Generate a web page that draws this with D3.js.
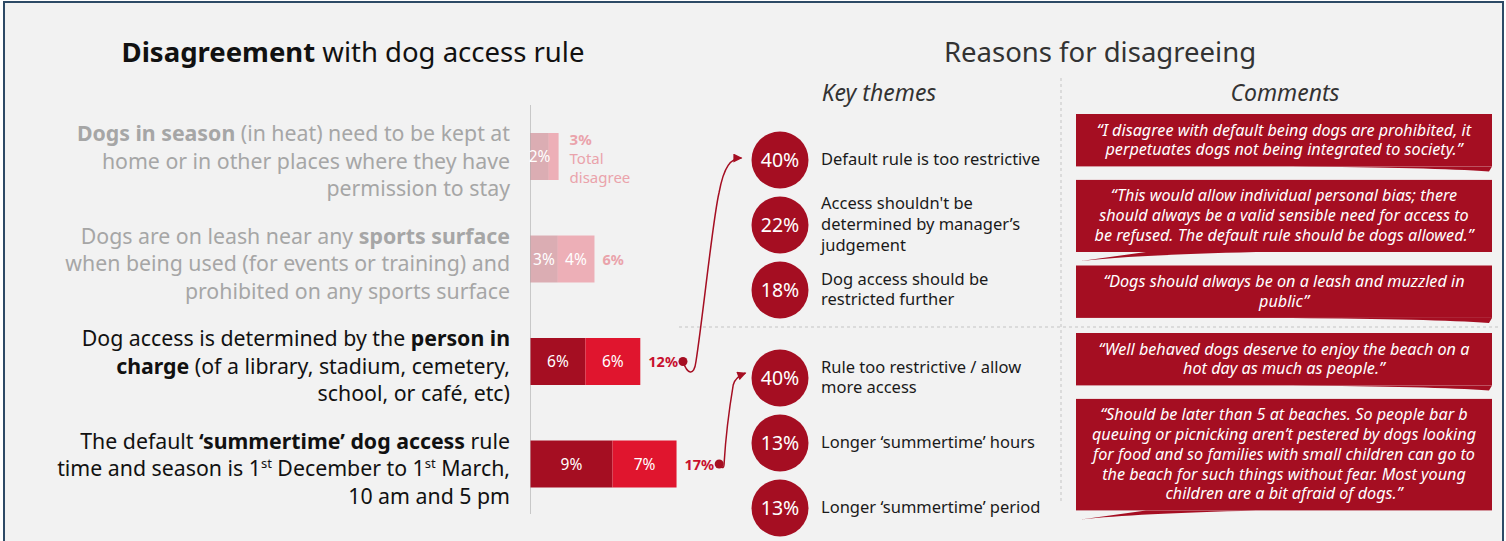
<!DOCTYPE html>
<html><head><meta charset="utf-8">
<script src="https://cdn.jsdelivr.net/npm/d3@7"></script>
<style>body{margin:0;background:#fff;} svg{display:block;}</style>
</head><body><svg id="c" width="1506" height="541"></svg>
<script>
// ---------- DATA ----------
const categories = ["season", "sports", "person", "summer"];
const labelLines = [
  [[["Dogs in season", "b"], [" (in heat) need to be kept at", "n"]],
   [["home or in other places where they have", "n"]],
   [["permission to stay", "n"]]],
  [[["Dogs are on leash near any ", "n"], ["sports surface", "b"]],
   [["when being used (for events or training) and", "n"]],
   [["prohibited on any sports surface", "n"]]],
  [[["Dog access is determined by the ", "n"], ["person in", "b"]],
   [["charge", "b"], [" (of a library, stadium, cemetery,", "n"]],
   [["school, or café, etc)", "n"]]],
  [[["The default ", "n"], ["‘summertime’ dog access", "b"], [" rule", "n"]],
   [["time and season is 1", "n"], ["st", "sup"], [" December to 1", "n"], ["st", "sup"], [" March,", "n"]],
   [["10 am and 5 pm", "n"]]]
];
const darkValues = [1.97, 2.95, 6.0, 8.96];
const lightValues = [1.1, 4.04, 6.0, 7.0];
const darkLabels = ["2%", "3%", "6%", "9%"];
const lightLabels = ["", "4%", "6%", "7%"];
const totalLabels = ["3%", "6%", "12%", "17%"];
const highlighted = [false, false, true, true];

const themeValues1 = [40, 22, 18];
const themeLabels1 = [["Default rule is too restrictive"], ["Access shouldn't be", "determined by manager’s", "judgement"], ["Dog access should be", "restricted further"]];
const themeValues2 = [40, 13, 13];
const themeLabels2 = [["Rule too restrictive / allow", "more access"], ["Longer ‘summertime’ hours"], ["Longer ‘summertime’ period"]];

const comments1 = [
  ["“I disagree with default being dogs are prohibited, it", "perpetuates dogs not being integrated to society.”"],
  ["“This would allow individual personal bias; there", "should always be a valid sensible need for access to", "be refused. The default rule should be dogs allowed.”"],
  ["“Dogs should always be on a leash and muzzled in", "public”"]
];
const comments2 = [
  ["“Well behaved dogs deserve to enjoy the beach on a", "hot day as much as people.”"],
  ["“Should be later than 5 at beaches. So people bar b", "queuing or picnicking aren’t pestered by dogs looking", "for food and so families with small children can go to", "the beach for such things without fear. Most young", "children are a bit afraid of dogs.”"]
];
const tails1 = ["right", "left", "right"];
const tails2 = ["right", "left"];

// ---------- STYLE ----------
const FONT = "'Noto Sans', Lato, sans-serif";
const DARK = "#a50e22", LIGHT = "#e0152e", RED = "#c8102e";
const svg = d3.select("#c");

svg.append("rect").attr("x", 4).attr("y", 2).attr("width", 1499).attr("height", 545)
  .attr("fill", "#f2f2f2").attr("stroke", "#2d4a66").attr("stroke-width", 2);

const defs = svg.append("defs");
defs.append("marker").attr("id", "ah").attr("viewBox", "0 0 10 10").attr("refX", 9).attr("refY", 5)
  .attr("markerWidth", 11).attr("markerHeight", 9).attr("markerUnits", "userSpaceOnUse").attr("orient", "auto")
  .append("path").attr("d", "M0,0 L10,5 L0,10 z").attr("fill", DARK);

// ---------- LEFT: title ----------
const t1 = svg.append("text").attr("x", 353).attr("y", 62).attr("text-anchor", "middle")
  .attr("font-family", FONT).attr("font-size", 27.5).attr("fill", "#111");
t1.append("tspan").attr("font-weight", "bold").text("Disagreement");
t1.append("tspan").text(" with dog access rule");

// ---------- LEFT: bars ----------
const x = d3.scaleLinear().domain([0, 20]).range([530.5, 713.5]);
const y = d3.scalePoint().domain(categories).range([156.5, 464]);
const BH = 47;

svg.append("line").attr("x1", x(0)).attr("x2", x(0)).attr("y1", 105).attr("y2", 514)
  .attr("stroke", "#c8c8c8").attr("stroke-width", 1);

const rows = svg.selectAll("g.row").data(categories).join("g").attr("class", "row");
rows.each(function (c, i) {
  const g = d3.select(this);
  const cy = y(c);
  const op = highlighted[i] ? 1 : 0.3;
  g.append("rect").attr("x", x(0)).attr("y", cy - BH / 2).attr("width", x(darkValues[i]) - x(0)).attr("height", BH)
    .attr("fill", DARK).attr("opacity", op);
  g.append("rect").attr("x", x(darkValues[i])).attr("y", cy - BH / 2)
    .attr("width", x(darkValues[i] + lightValues[i]) - x(darkValues[i])).attr("height", BH)
    .attr("fill", LIGHT).attr("opacity", op);
  g.append("text").attr("x", (x(0) + x(darkValues[i])) / 2).attr("y", cy + 5.5).attr("text-anchor", "middle")
    .attr("font-family", FONT).attr("font-size", 15.5).attr("fill", "#fff").text(darkLabels[i]);
  g.append("text").attr("x", (x(darkValues[i]) + x(darkValues[i] + lightValues[i])) / 2).attr("y", cy + 5.5)
    .attr("text-anchor", "middle").attr("font-family", FONT).attr("font-size", 15.5).attr("fill", "#fff").text(lightLabels[i]);
  const tx = x(darkValues[i] + lightValues[i]) + 8;
  const tcol = highlighted[i] ? RED : "#eaa3ab";
  if (i === 0) {
    g.append("text").attr("x", tx + 3).attr("y", cy - 12).attr("font-family", FONT).attr("font-size", 15)
      .attr("font-weight", "bold").attr("fill", tcol).text(totalLabels[i]);
    g.append("text").attr("x", tx + 3).attr("y", cy + 7).attr("font-family", FONT).attr("font-size", 15)
      .attr("fill", tcol).text("Total");
    g.append("text").attr("x", tx + 3).attr("y", cy + 26).attr("font-family", FONT).attr("font-size", 15)
      .attr("fill", tcol).text("disagree");
  } else {
    g.append("text").attr("class", "tot").attr("x", tx).attr("y", cy + 5.5).attr("font-family", FONT).attr("font-size", 14.5)
      .attr("font-weight", "bold").attr("fill", tcol).text(totalLabels[i]);
  }
  const lines = labelLines[i];
  const LH = 27.5;
  lines.forEach((segs, li) => {
    const t = g.append("text").attr("x", 510).attr("y", cy + 12 + (li - 1) * LH).attr("text-anchor", "end")
      .attr("font-family", FONT).attr("font-size", 21.3).attr("fill", highlighted[i] ? "#111" : "#a6a6a6");
    let up = false;
    segs.forEach(([txt, st]) => {
      const ts = t.append("tspan").text(txt);
      if (st === "b") ts.attr("font-weight", "bold");
      if (st === "sup") { ts.attr("font-size", 13).attr("dy", -8); up = true; }
      else if (up) { ts.attr("dy", 8); up = false; }
    });
  });
});

// ---------- RIGHT: headers ----------
svg.append("text").attr("x", 1100).attr("y", 62).attr("text-anchor", "middle").attr("font-family", FONT)
  .attr("font-size", 27.5).attr("fill", "#333").text("Reasons for disagreeing");
svg.append("text").attr("x", 879).attr("y", 101).attr("text-anchor", "middle").attr("font-family", FONT)
  .attr("font-size", 23).attr("font-style", "italic").attr("fill", "#333").text("Key themes");
svg.append("text").attr("x", 1285).attr("y", 101).attr("text-anchor", "middle").attr("font-family", FONT)
  .attr("font-size", 23).attr("font-style", "italic").attr("fill", "#333").text("Comments");

svg.append("line").attr("x1", 1061).attr("x2", 1061).attr("y1", 78).attr("y2", 503)
  .attr("stroke", "#c4c4c4").attr("stroke-dasharray", "3,3");
svg.append("line").attr("x1", 679).attr("x2", 1500).attr("y1", 327).attr("y2", 327)
  .attr("stroke", "#c4c4c4").attr("stroke-dasharray", "3,3");

// ---------- RIGHT: themes ----------
const CX = 780, R = 28.5;
function drawThemes(vals, labs, y0, y1) {
  const ys = d3.scalePoint().domain(d3.range(vals.length)).range([y0, y1]);
  vals.forEach((v, i) => {
    const cy = ys(i);
    svg.append("circle").attr("cx", CX).attr("cy", cy).attr("r", R).attr("fill", DARK);
    svg.append("text").attr("x", CX).attr("y", cy + 7).attr("text-anchor", "middle").attr("font-family", FONT)
      .attr("font-size", 19.5).attr("fill", "#fff").text(v + "%");
    const n = labs[i].length, LH = 20.7;
    labs[i].forEach((l, li) => {
      svg.append("text").attr("x", 821).attr("y", cy + 5 + (li - (n - 1) / 2) * LH).attr("font-family", FONT)
        .attr("font-size", 16.5).attr("fill", "#1a1a1a").text(l);
    });
  });
  return ys;
}
const ys1 = drawThemes(themeValues1, themeLabels1, 160, 290);
const ys2 = drawThemes(themeValues2, themeLabels2, 378, 508);

// ---------- RIGHT: comments ----------
const BX0 = 1076, BX1 = 1492, CLH = 19.7;
function drawComments(list, tails, top) {
  let yy = top;
  list.forEach((lines, i) => {
    const h = lines.length * CLH + 13;
    const b = yy + h;
    svg.append("rect").attr("x", BX0).attr("y", yy).attr("width", BX1 - BX0).attr("height", h).attr("fill", DARK);
    if (tails[i] === "right") {
      svg.append("path").attr("d", `M${BX1 - 200},${b} Q${BX1 - 60},${b + 1} ${BX1 - 3},${b + 5} L${BX1},${b} Z`).attr("fill", DARK);
    } else {
      svg.append("path").attr("d", `M${BX0 + 180},${b} Q${BX0 + 60},${b + 3} ${BX0 + 5},${b + 9} L${BX0 + 70},${b} Z`).attr("fill", DARK);
    }
    lines.forEach((l, li) => {
      svg.append("text").attr("x", (BX0 + BX1) / 2).attr("y", yy + 21.5 + li * CLH).attr("text-anchor", "middle")
        .attr("font-family", FONT).attr("font-size", 16.2).attr("font-style", "italic").attr("fill", "#fff").text(l);
    });
    yy = b + 13.5;
  });
}
drawComments(comments1, tails1, 114);
drawComments(comments2, tails2, 333);

// ---------- ARROWS ----------
const totNodes = svg.selectAll("text.tot").nodes();
function dotPos(i) {
  const node = totNodes[i - 1];
  const w = node.getComputedTextLength();
  return [x(darkValues[i] + lightValues[i]) + 8 + w + 5, y(categories[i])];
}
const [s1x, s1y] = dotPos(2);
const e1x = CX - R - 10, e1y = ys1(0) - 2;
svg.append("path").attr("fill", "none").attr("stroke", DARK).attr("stroke-width", 1.5).attr("marker-end", "url(#ah)")
  .attr("d", `M${s1x},${s1y} C${s1x + 4},${s1y + 12} ${s1x + 11},${s1y + 16} ${s1x + 13},${s1y} ` +
    `C${s1x + 20},${s1y - 45} ${s1x + 30},${e1y + 60} ${s1x + 36},${e1y + 35} ` +
    `C${s1x + 41},${e1y + 8} ${s1x + 48},${e1y} ${e1x},${e1y}`);
svg.append("circle").attr("cx", s1x).attr("cy", s1y).attr("r", 4.5).attr("fill", DARK);

const [s2x, s2y] = dotPos(3);
const e2x = CX - R - 6, e2y = ys2(0) - 5;
svg.append("path").attr("fill", "none").attr("stroke", DARK).attr("stroke-width", 1.5).attr("marker-end", "url(#ah)")
  .attr("d", `M${s2x},${s2y} Q${s2x + 5},${s2y + 8} ${s2x + 5},${s2y - 2} ` +
    `C${s2x + 7},${s2y - 35} ${s2x + 11},${e2y + 30} ${s2x + 14},${e2y + 12} ` +
    `Q${s2x + 16},${e2y + 4} ${e2x},${e2y}`);
svg.append("circle").attr("cx", s2x).attr("cy", s2y).attr("r", 4.5).attr("fill", DARK);
</script></body></html>
